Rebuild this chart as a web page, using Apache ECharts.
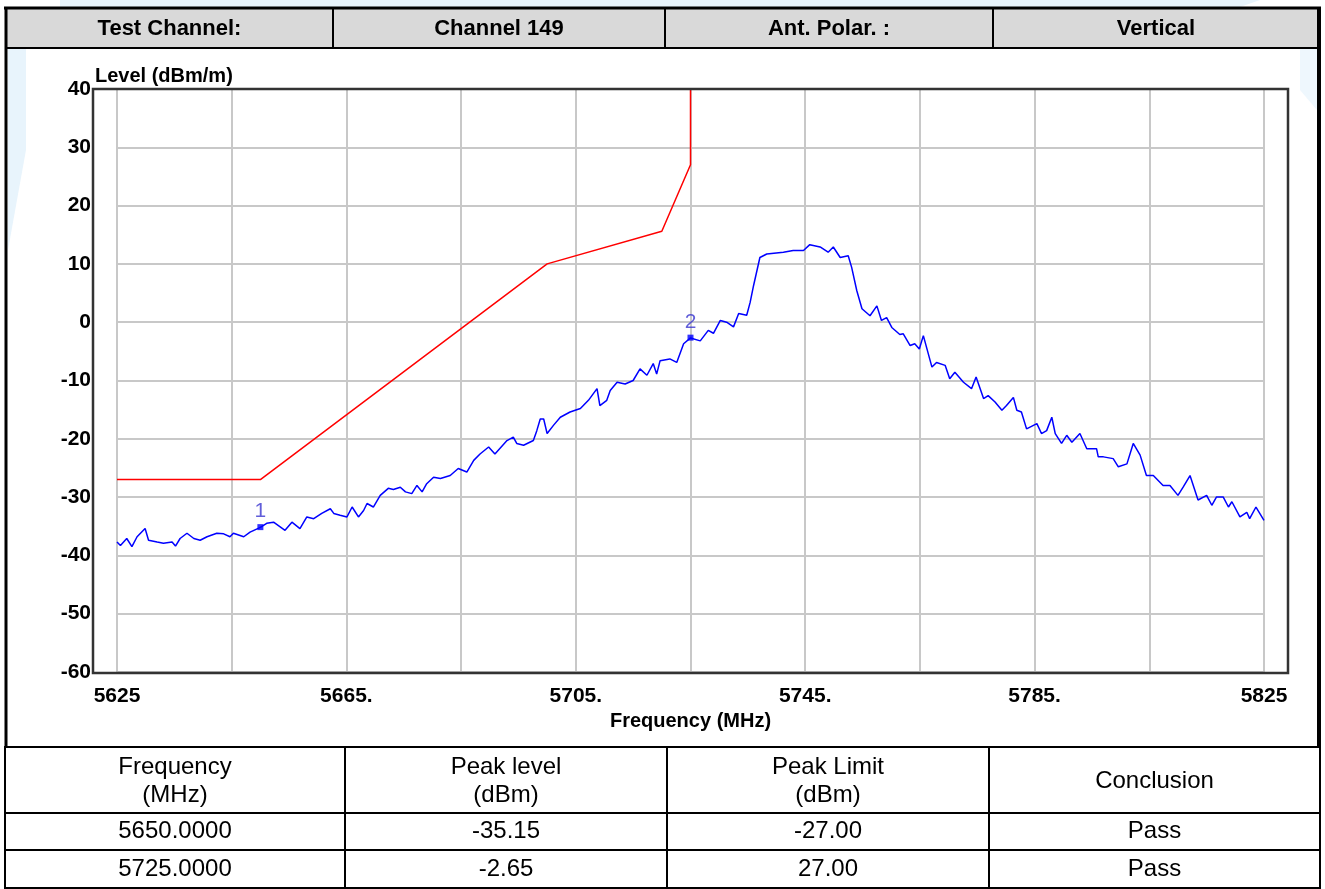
<!DOCTYPE html>
<html>
<head>
<meta charset="utf-8">
<script src="https://cdn.jsdelivr.net/npm/echarts@6/dist/echarts.min.js"></script>
<style>
  html, body { margin: 0; padding: 0; background: #fff; }
  #chart { width: 1325px; height: 889px; }
</style>
</head>
<body>
<div id="chart"></div>
<script>
// header strip above the plot
const headerCells = ['Test Channel:', 'Channel 149', 'Ant. Polar. :', 'Vertical'];

// x axis ticks (labels every 40 MHz, grid every 20 MHz)
const xTickValues = [5625, 5665, 5705, 5745, 5785, 5825];
const xTickLabels = ['5625', '5665.', '5705.', '5745.', '5785.', '5825'];

// limit mask (red)
const limitFreq = [5625, 5650, 5700, 5720, 5725, 5725];
const limitLevel = [-27, -27, 10, 15.6, 27, 40];

const traceData = [
  [5625.0, -37.7], [5625.6, -38.3], [5626.7, -37.1], [5627.6, -38.5], [5628.5, -36.8],
  [5629.9, -35.4], [5630.5, -37.4], [5632.0, -37.7], [5633.1, -37.9], [5634.6, -37.7],
  [5635.2, -38.4], [5636.0, -37.1], [5637.2, -36.2], [5638.4, -37.1], [5639.5, -37.4],
  [5640.7, -36.8], [5642.4, -36.2], [5643.6, -36.3], [5644.7, -36.8], [5645.3, -36.2],
  [5647.1, -36.8], [5648.2, -36.0], [5650.0, -35.2], [5651.1, -34.5], [5652.3, -34.3],
  [5654.3, -35.7], [5655.5, -34.3], [5656.9, -35.4], [5658.1, -33.4], [5659.3, -33.7],
  [5660.7, -32.8], [5662.2, -32.0], [5662.8, -32.8], [5663.9, -33.1], [5665.1, -33.4],
  [5666.0, -31.7], [5667.1, -33.4], [5668.0, -32.3], [5668.6, -31.1], [5669.7, -31.7],
  [5670.9, -29.7], [5672.3, -28.5], [5673.2, -28.7], [5674.4, -28.3], [5675.3, -29.1],
  [5676.4, -29.4], [5677.3, -28.0], [5678.2, -29.1], [5679.0, -27.7], [5680.2, -26.6],
  [5681.4, -26.8], [5683.1, -26.3], [5684.5, -25.1], [5686.0, -25.7], [5687.2, -23.7],
  [5688.3, -22.6], [5689.8, -21.4], [5690.9, -22.6], [5693.0, -20.3], [5694.1, -19.7],
  [5694.7, -20.8], [5695.9, -21.1], [5697.6, -20.3], [5698.2, -18.6], [5698.8, -16.6],
  [5699.4, -16.6], [5700.0, -19.1], [5701.1, -17.7], [5702.3, -16.3], [5704.0, -15.4],
  [5705.8, -14.8], [5707.2, -13.4], [5708.7, -11.4], [5709.2, -14.3], [5710.4, -13.4],
  [5711.0, -11.7], [5712.2, -10.3], [5713.6, -10.6], [5715.0, -10.0], [5716.2, -8.0],
  [5717.4, -9.1], [5718.5, -7.1], [5719.1, -8.9], [5719.7, -6.6], [5721.4, -6.3],
  [5722.6, -6.9], [5723.8, -3.7], [5725.0, -2.7], [5726.7, -3.2], [5728.1, -1.4],
  [5729.0, -1.9], [5730.2, 0.3], [5731.3, 0.0], [5732.5, -0.8], [5733.4, 1.5],
  [5734.8, 1.2], [5735.4, 3.4], [5736.0, 6.3], [5737.1, 11.1], [5738.3, 11.7],
  [5741.2, 12.0], [5742.9, 12.3], [5744.7, 12.3], [5745.8, 13.3], [5747.6, 12.9],
  [5749.0, 12.0], [5749.9, 12.9], [5751.1, 11.1], [5752.5, 11.4], [5753.1, 9.4],
  [5754.0, 5.4], [5754.9, 2.3], [5756.3, 1.1], [5757.5, 2.8], [5758.3, 0.3],
  [5759.2, 0.8], [5760.1, -0.9], [5761.5, -2.1], [5762.1, -2.0], [5763.3, -4.0],
  [5764.1, -3.7], [5764.9, -4.6], [5765.6, -2.3], [5767.1, -7.7], [5767.9, -6.9],
  [5769.4, -7.4], [5770.2, -9.7], [5771.1, -8.6], [5772.6, -10.3], [5774.0, -11.4],
  [5774.8, -9.4], [5776.1, -13.1], [5776.9, -12.6], [5778.1, -13.7], [5779.3, -15.1],
  [5780.1, -14.3], [5781.3, -12.9], [5781.9, -15.1], [5782.7, -15.4], [5783.6, -18.3],
  [5785.4, -17.4], [5786.2, -19.1], [5787.1, -18.6], [5788.0, -16.3], [5788.6, -19.1],
  [5789.7, -20.8], [5790.6, -19.4], [5791.5, -20.6], [5792.9, -19.1], [5794.1, -21.7],
  [5795.8, -21.7], [5796.1, -23.1], [5797.0, -23.1], [5798.7, -23.4], [5799.6, -24.8],
  [5801.1, -24.3], [5802.2, -20.8], [5803.4, -22.8], [5804.5, -26.3], [5805.7, -26.3],
  [5807.4, -28.0], [5808.6, -28.0], [5810.0, -29.7], [5810.9, -28.3], [5812.1, -26.3],
  [5813.5, -30.5], [5815.0, -29.7], [5815.9, -31.4], [5816.7, -30.0], [5817.9, -30.0],
  [5818.8, -31.7], [5819.4, -30.8], [5820.8, -33.4], [5822.0, -32.6], [5822.5, -33.7],
  [5823.6, -31.7], [5825.0, -34.0]
];

// peak markers
const markerNames = ['1', '2'];
const markerFreq = [5650.0, 5725.0];
const markerLevel = [-35.15, -2.65];

// result table below the plot
const tableHead = ['Frequency\n(MHz)', 'Peak level\n(dBm)', 'Peak Limit\n(dBm)', 'Conclusion'];
const tableRows = [
  ['5650.0000', '-35.15', '-27.00', 'Pass'],
  ['5725.0000', '-2.65', '27.00', 'Pass']
];

const FONT = '"Liberation Sans", Arial, sans-serif';
const chart = echarts.init(document.getElementById('chart'));

function line(x1, y1, x2, y2, w) {
  return { type: 'line', shape: { x1, y1, x2, y2 }, style: { stroke: '#000', lineWidth: w }, z: 110 };
}
function text(x, y, s, size, weight) {
  return {
    type: 'text', x, y, z: 120,
    style: { text: s, fill: '#000', font: `${weight} ${size}px ${FONT}`, align: 'center', verticalAlign: 'middle', lineHeight: 28 }
  };
}

const graphics = [];
// faint watermark shapes in the background
graphics.push({ type: 'polygon', shape: { points: [[60, 0], [1260, 0], [1240, 7], [60, 7]] }, style: { fill: '#e8f4fc' }, z: 1 });
graphics.push({ type: 'polygon', shape: { points: [[8, 49], [26, 49], [26, 150], [8, 250]] }, style: { fill: '#e8f4fc' }, z: 1 });
graphics.push({ type: 'polygon', shape: { points: [[1300, 49], [1317, 49], [1317, 110], [1300, 90]] }, style: { fill: '#eef7fd' }, z: 1 });

// header strip
const hCols = [6, 333, 665, 993, 1319];
graphics.push({ type: 'rect', shape: { x: 6, y: 8, width: 1313, height: 40 }, style: { fill: '#d9d9d9' }, z: 100 });
graphics.push(line(4, 8, 1321, 8, 3));
graphics.push(line(6, 48, 1319, 48, 2));
hCols.forEach((x, i) => {
  if (i > 0 && i < hCols.length - 1) graphics.push(line(x, 8, x, 48, 2));
});
headerCells.forEach((s, i) => {
  graphics.push(text((hCols[i] + hCols[i + 1]) / 2, 29, s, 22, 'bold'));
});
// outer side borders
graphics.push(line(6, 7, 6, 747, 3));
graphics.push(line(1319, 7, 1319, 747, 4));
// plot frame
graphics.push({ type: 'rect', shape: { x: 93, y: 89, width: 1195, height: 584 }, style: { fill: null, stroke: '#333', lineWidth: 2.5 }, z: 90 });
// y axis title
graphics.push({ type: 'text', x: 95, y: 76, z: 120, style: { text: 'Level (dBm/m)', fill: '#000', font: `bold 20px ${FONT}`, align: 'left', verticalAlign: 'middle' } });

// result table
const tCols = [5, 345, 667, 989, 1320];
const tRows = [747, 813, 850, 888];
tRows.forEach(y => graphics.push(line(4, y, 1321, y, 2)));
tCols.forEach(x => graphics.push(line(x, 747, x, 888, 2)));
tableHead.forEach((s, i) => graphics.push(text((tCols[i] + tCols[i + 1]) / 2, 781, s, 24, 'normal')));
tableRows.forEach((row, r) => {
  row.forEach((s, i) => graphics.push(text((tCols[i] + tCols[i + 1]) / 2, (tRows[r + 1] + tRows[r + 2]) / 2, s, 24, 'normal')));
});

chart.setOption({
  backgroundColor: '#fff',
  animation: false,
  grid: { left: 117, right: 61, top: 89, bottom: 217 },
  xAxis: {
    type: 'value',
    min: 5625,
    max: 5825,
    interval: 20,
    axisLine: { show: false },
    axisTick: { show: false },
    splitLine: { show: true, lineStyle: { color: '#c8c8c8', width: 2 } },
    axisLabel: {
      margin: 14,
      color: '#000',
      fontWeight: 'bold',
      fontSize: 21,
      fontFamily: FONT,
      formatter: v => {
        const i = xTickValues.indexOf(v);
        return i >= 0 ? xTickLabels[i] : '';
      },
    },
    name: 'Frequency (MHz)',
    nameLocation: 'middle',
    nameGap: 36,
    nameTextStyle: { color: '#000', fontWeight: 'bold', fontSize: 20, fontFamily: FONT, verticalAlign: 'top' },
  },
  yAxis: {
    type: 'value',
    min: -60,
    max: 40,
    interval: 10,
    axisLine: { show: false },
    axisTick: { show: false },
    splitLine: { show: true, lineStyle: { color: '#c8c8c8', width: 2 } },
    axisLabel: { margin: 26, color: '#000', fontWeight: 'bold', fontSize: 21, fontFamily: FONT },
  },
  series: [
    {
      name: 'Limit',
      type: 'line',
      data: limitFreq.map((f, i) => [f, limitLevel[i]]),
      symbol: 'none',
      lineStyle: { color: '#ff0000', width: 1.5 },
      z: 3,
    },
    {
      name: 'Level',
      type: 'line',
      data: traceData,
      symbol: 'none',
      lineStyle: { color: '#0000ff', width: 1.5 },
      z: 4,
    },
    {
      name: 'Marker',
      type: 'scatter',
      data: markerFreq.map((f, i) => [f, markerLevel[i]]),
      symbol: 'rect',
      symbolSize: 6,
      itemStyle: { color: '#0000ff' },
      label: {
        show: true,
        position: 'top',
        distance: 2,
        color: '#3a36d0',
        fontSize: 21,
        fontFamily: FONT,
        formatter: p => markerNames[p.dataIndex],
      },
      z: 5,
    },
  ],
  graphic: graphics,
});
</script>
</body>
</html>
